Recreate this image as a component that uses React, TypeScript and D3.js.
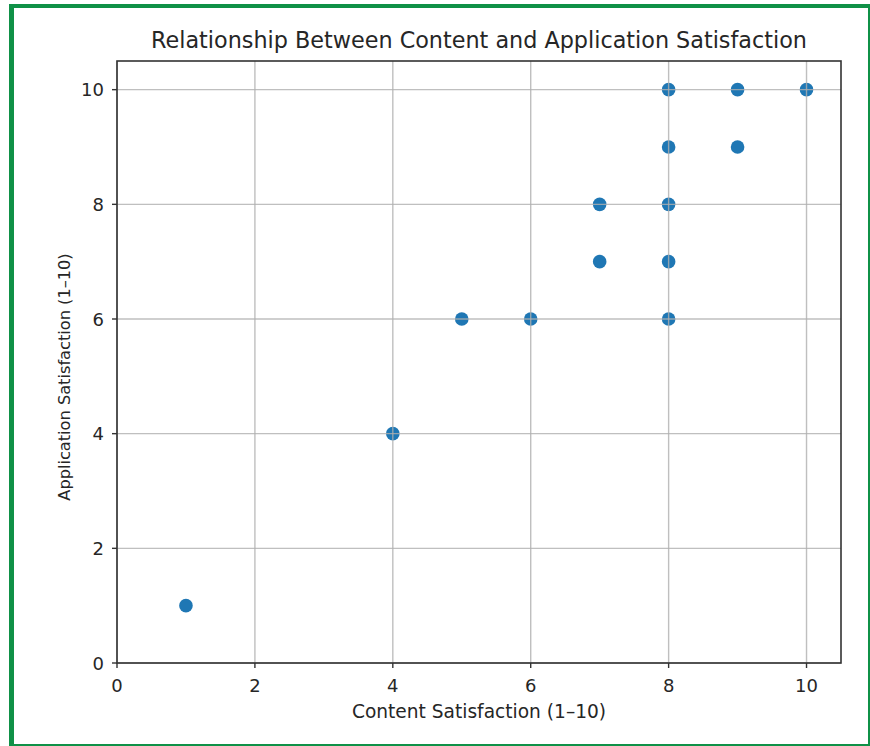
import React from "react";
import * as d3 from "d3";

const contentScores = [1, 4, 5, 6, 7, 7, 8, 8, 8, 8, 8, 9, 9, 10];
const appScores = [1, 4, 6, 6, 7, 8, 6, 7, 8, 9, 10, 9, 10, 10];
const xTicks = [0, 2, 4, 6, 8, 10];
const yTicks = [0, 2, 4, 6, 8, 10];
const title = "Relationship Between Content and Application Satisfaction";
const xLabel = "Content Satisfaction (1–10)";
const yLabel = "Application Satisfaction (1–10)";

export default function App() {
  const W = 870, H = 746;
  const left = 117, right = 841, top = 61, bottom = 663;
  const x = d3.scaleLinear().domain([0, 10.5]).range([left, right]);
  const y = d3.scaleLinear().domain([0, 10.5]).range([bottom, top]);
  const font = "DejaVu Sans, sans-serif";
  const textColor = "#262626";
  return (
    <svg width={W} height={H} style={{ position: "absolute", left: 0, top: 0 }} fontFamily={font}>
      <rect x={0} y={0} width={W} height={H} fill="#fff" />
      {/* green frame */}
      <rect x={9} y={4} width={W - 9} height={4} fill="#0f9147" />
      <rect x={9} y={4} width={5} height={H - 4} fill="#0f9147" />
      <rect x={9} y={744} width={W - 9} height={2} fill="#0f9147" />
      <rect x={868} y={4} width={2} height={H - 4} fill="#0f9147" />
      {/* points */}
      {contentScores.map((c, i) => (
        <circle key={i} cx={x(c)} cy={y(appScores[i])} r={6.8} fill="#1f77b4" />
      ))}
      {/* grid on top */}
      {xTicks.map((t) => (
        <line key={"gx" + t} x1={x(t)} x2={x(t)} y1={top} y2={bottom} stroke="#b0b0b0" strokeWidth={1.4} opacity={0.8} />
      ))}
      {yTicks.map((t) => (
        <line key={"gy" + t} x1={left} x2={right} y1={y(t)} y2={y(t)} stroke="#b0b0b0" strokeWidth={1.4} opacity={0.8} />
      ))}
      {/* spines */}
      <rect x={left} y={top} width={right - left} height={bottom - top} fill="none" stroke="#333" strokeWidth={1.6} />
      {/* ticks */}
      {xTicks.map((t) => (
        <g key={"tx" + t}>
          <line x1={x(t)} x2={x(t)} y1={bottom} y2={bottom + 5} stroke="#333" strokeWidth={1.4} />
          <text x={x(t)} y={692} textAnchor="middle" fontSize={18} fill={textColor}>{t}</text>
        </g>
      ))}
      {yTicks.map((t) => (
        <g key={"ty" + t}>
          <line x1={left - 5} x2={left} y1={y(t)} y2={y(t)} stroke="#333" strokeWidth={1.4} />
          <text x={104} y={y(t) + 6.5} textAnchor="end" fontSize={18} fill={textColor}>{t}</text>
        </g>
      ))}
      <text x={479} y={48} textAnchor="middle" fontSize={22.3} fill={textColor}>{title}</text>
      <text x={479} y={718} textAnchor="middle" fontSize={18.6} fill={textColor}>{xLabel}</text>
      <text transform={`translate(70, 377) rotate(-90)`} textAnchor="middle" fontSize={16.2} fill={textColor}>{yLabel}</text>
    </svg>
  );
}
